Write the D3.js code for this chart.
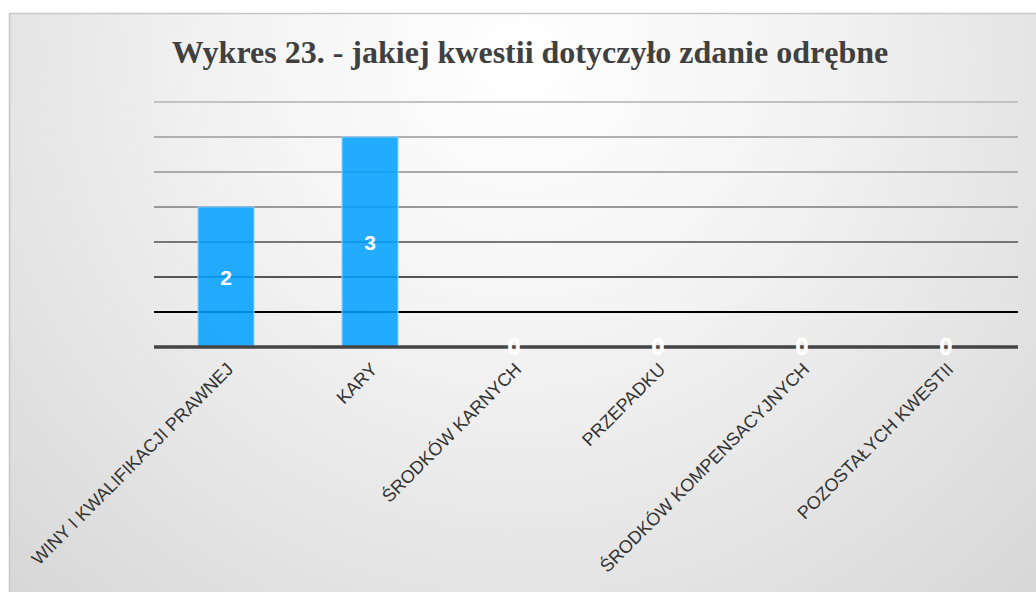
<!DOCTYPE html>
<html>
<head>
<meta charset="utf-8">
<script src="https://cdn.jsdelivr.net/npm/d3@7/dist/d3.min.js"></script>
<style>
  html, body { margin: 0; padding: 0; background: #fff; }
  svg { display: block; }
</style>
</head>
<body>
<svg id="chart" width="1036" height="592"></svg>
<script>
// Chart data
const categories = [
  "WINY I KWALIFIKACJI PRAWNEJ",
  "KARY",
  "ŚRODKÓW KARNYCH",
  "PRZEPADKU",
  "ŚRODKÓW KOMPENSACYJNYCH",
  "POZOSTAŁYCH KWESTII"
];
const values = [2, 3, 0, 0, 0, 0];
const gridTicks = [0.5, 1, 1.5, 2, 2.5, 3, 3.5];
const titleText = "Wykres 23. - jakiej kwestii dotyczyło zdanie odrębne";

// Gridline tones, lightest at the top
const gridColors = ["#000000", "#555555", "#777777", "#999999", "#aaaaaa", "#b0b0b0", "#c2c2c2"];

const W = 1036, H = 592;
const svg = d3.select("#chart");

// Background panel with a soft radial shading
const defs = svg.append("defs");
const rg = defs.append("radialGradient")
  .attr("id", "bg")
  .attr("gradientUnits", "userSpaceOnUse")
  .attr("cx", 520).attr("cy", 60).attr("r", 760);
rg.append("stop").attr("offset", "0").attr("stop-color", "#ffffff");
rg.append("stop").attr("offset", "0.35").attr("stop-color", "#f4f4f4");
rg.append("stop").attr("offset", "1").attr("stop-color", "#d6d6d6");

svg.append("rect")
  .attr("x", 9.5).attr("y", 13.5)
  .attr("width", W + 10).attr("height", H)
  .attr("fill", "url(#bg)")
  .attr("stroke", "#c6c6c6")
  .attr("stroke-width", 1.5);

// Title
svg.append("text")
  .attr("x", 530).attr("y", 63)
  .attr("text-anchor", "middle")
  .attr("font-family", "'Liberation Serif', 'Times New Roman', serif")
  .attr("font-weight", "bold")
  .attr("font-size", 32)
  .attr("fill", "#404040")
  .text(titleText);

// Scales
const xc = d3.scaleBand().domain(categories).range([154, 1018]);
const y = d3.scaleLinear().domain([0, 3.5]).range([347, 102]);

// Gridlines
svg.append("g").selectAll("line")
  .data(gridTicks)
  .join("line")
  .attr("x1", 154).attr("x2", 1018)
  .attr("y1", d => y(d)).attr("y2", d => y(d))
  .attr("stroke", (d, i) => gridColors[i])
  .attr("stroke-width", 2);

// Bars
svg.append("g").selectAll("rect")
  .data(categories.map((c, i) => ({ c, v: values[i] })).filter(d => d.v > 0))
  .join("rect")
  .attr("x", d => xc(d.c) + xc.bandwidth() / 2 - 28)
  .attr("width", 56)
  .attr("y", d => y(d.v))
  .attr("height", d => y(0) - y(d.v))
  .attr("fill", "rgb(0,160,255)")
  .attr("fill-opacity", 0.86)
  .attr("stroke", "#8fd3ff")
  .attr("stroke-width", 1);

// Baseline
svg.append("line")
  .attr("x1", 154).attr("x2", 1018)
  .attr("y1", y(0)).attr("y2", y(0))
  .attr("stroke", "#444444")
  .attr("stroke-width", 3.5);

// Value labels
const labels = svg.append("g")
  .attr("font-family", "'Liberation Sans', Arial, sans-serif")
  .attr("font-weight", "bold")
  .attr("fill", "#ffffff")
  .attr("text-anchor", "middle");
categories.forEach((c, i) => {
  const v = values[i];
  const cx = xc(c) + xc.bandwidth() / 2;
  if (v > 0) {
    labels.append("text")
      .attr("x", cx).attr("y", (y(v) + y(0)) / 2)
      .attr("dy", "0.36em")
      .attr("font-size", 21)
      .text(v);
  } else {
    labels.append("text")
      .attr("x", cx).attr("y", y(0))
      .attr("dy", "0.36em")
      .attr("font-size", 23)
      .attr("stroke", "#ffffff")
      .attr("stroke-width", 0.6)
      .text(v);
  }
});

// Category axis labels, rotated
const xAxis = svg.append("g").attr("transform", `translate(0, ${y(0)})`)
  .call(d3.axisBottom(xc).tickSize(0).tickPadding(0));
xAxis.select(".domain").remove();
xAxis.selectAll("text")
  .attr("font-family", "'Liberation Sans', Arial, sans-serif")
  .attr("font-size", 18)
  .attr("fill", "#333333")
  .attr("text-anchor", "end")
  .attr("dy", "0.35em")
  .attr("transform", "translate(4, 19) rotate(-45)");
</script>
</body>
</html>
